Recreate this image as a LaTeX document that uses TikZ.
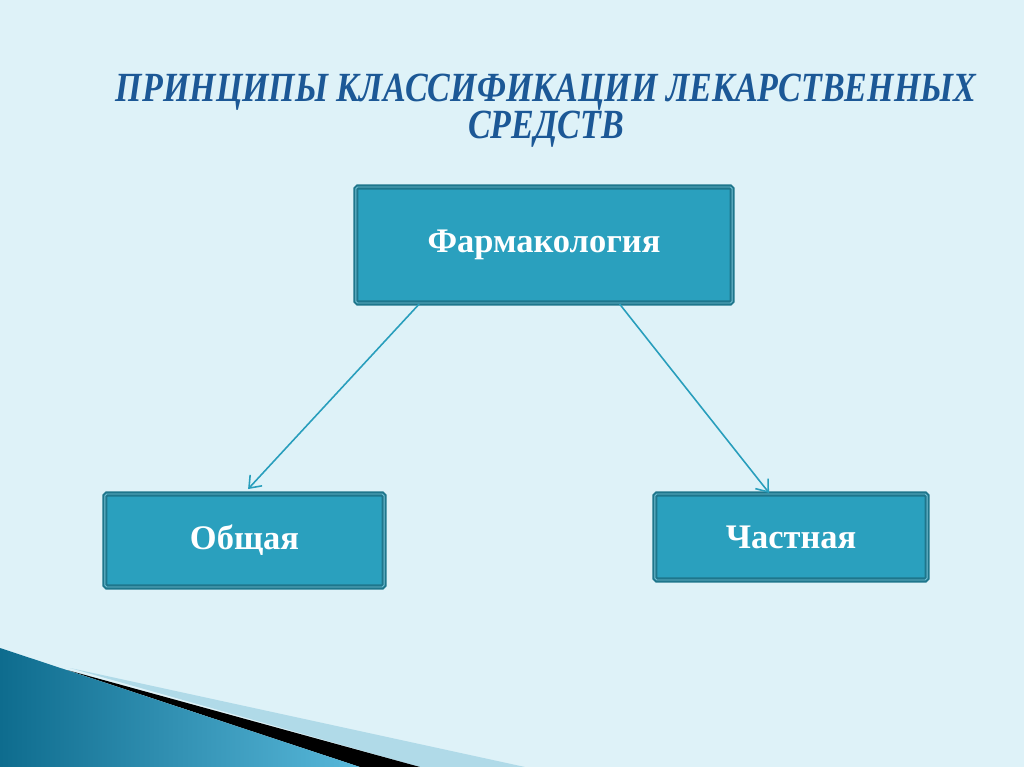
\documentclass[tikz,border=0pt]{standalone}
\usepackage{fontspec}
\setmainfont{Liberation Serif}
\newfontfamily\headfont[FakeStretch=0.82]{Liberation Serif}
\usetikzlibrary{calc,arrows.meta}

\definecolor{slidebg}{RGB}{222,242,248}
\definecolor{boxfill}{RGB}{42,160,190}
\definecolor{boxedge}{RGB}{30,118,140}
\definecolor{linkblue}{RGB}{40,158,188}
\definecolor{headblue}{RGB}{28,88,150}
\definecolor{wedgedark}{RGB}{14,108,142}
\definecolor{wedgelight}{RGB}{88,184,218}
\definecolor{bandlight}{RGB}{176,218,232}

\newcommand\tightlines{\lineskiplimit=-20pt\relax}

\tikzset{
  classbox/.style={draw=boxedge, line width=0.6pt, double=boxfill!65!white,
    double distance=0.25pt, fill=boxfill, rounded corners=0.5pt,
    text=white, font=\bfseries\fontsize{9.8}{11}\selectfont, inner sep=0pt},
  link/.style={draw=linkblue, line width=0.45pt, -{Straight Barb[length=3pt,width=4.6pt]}},
  headline/.style={text=headblue, align=center, inner sep=0pt,
    font={\headfont\bfseries\itshape\fontsize{11.8}{10.8}\selectfont\tightlines}}
}

\begin{document}
\begin{tikzpicture}[x=0.01cm, y=-0.01cm] % one unit = one pixel of the slide

    % --- Slide background ---
    \fill[slidebg] (0,0) rectangle (1024,767);
    \useasboundingbox (0,0) rectangle (1024,767);

    % --- Corner decoration (bottom left) ---
    \fill[bandlight] (70,668) -- (525,767) -- (420,767) -- cycle;
    \fill[black] (67,670) -- (420,767) -- (360,767) -- cycle;
    \shade[left color=wedgedark, right color=wedgelight]
        (0,648) -- (360,767) -- (0,767) -- cycle;

    % --- Title (anchored on its second line) ---
    \node[headline, anchor=base] (title) at (546,139) {ПРИНЦИПЫ КЛАССИФИКАЦИИ ЛЕКАРСТВЕННЫХ\\СРЕДСТВ};

    % --- Boxes ---
    \node[classbox, minimum width=3.76cm, minimum height=1.16cm] (pharm) at (544,245) {\raisebox{-1pt}{Фармакология}};
    \node[classbox, minimum width=2.79cm, minimum height=0.93cm] (general) at (244.5,540.5) {\raisebox{-1.2pt}{Общая}};
    \node[classbox, minimum width=2.72cm, minimum height=0.86cm] (special) at (791,537) {\raisebox{-0.6pt}{Частная}};

    % --- Arrows ---
    \coordinate (outL) at ($(pharm.south west)!0.17!(pharm.south east)$);
    \coordinate (outR) at ($(pharm.south west)!0.70!(pharm.south east)$);
    \coordinate (inR) at ($(special.north west)!0.42!(special.north east)$);
    \draw[link, shorten >=1.5pt] (outL) -- (general.north);
    \draw[link] (outR) -- (inR);

\end{tikzpicture}
\end{document}
